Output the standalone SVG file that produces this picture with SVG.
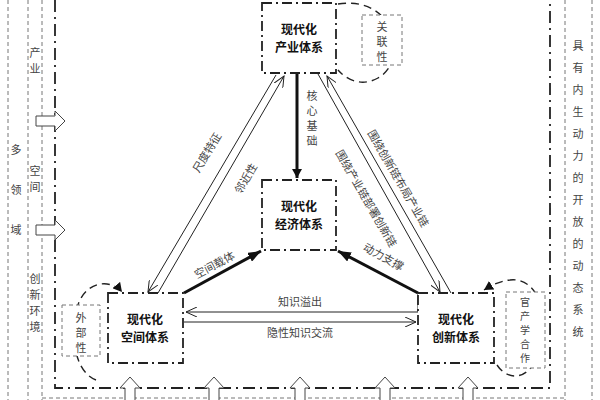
<svg xmlns="http://www.w3.org/2000/svg" width="600" height="400" viewBox="0 0 600 400">
<defs>
<style>
.t{font-family:"Noto Sans CJK SC","Liberation Sans",sans-serif;font-size:11px;fill:#444}
.r{dominant-baseline:central}
.b{font-family:"Noto Sans CJK SC","Liberation Sans",sans-serif;font-size:12px;font-weight:bold;fill:#111}
.node{fill:#fff;stroke:#222;stroke-width:1.8;stroke-dasharray:10 4 2 4}
.frame{fill:none;stroke:#222;stroke-width:1.8;stroke-dasharray:12 5 2 5}
.dash{fill:none;stroke:#777;stroke-width:1;stroke-dasharray:4 3}
.box{fill:#fff;stroke:#777;stroke-width:1;stroke-dasharray:4 3}
.loop{fill:none;stroke:#222;stroke-width:1.4;stroke-dasharray:8 5}
.ln{stroke:#222;stroke-width:1;fill:none}
.thick{stroke:#111;stroke-width:3;fill:none}
.hol{fill:#fff;stroke:#444;stroke-width:1}
</style>
<marker id="open" markerWidth="12" markerHeight="10" refX="11" refY="5" orient="auto" markerUnits="userSpaceOnUse"><path d="M0,0 L11,5 L0,10" fill="none" stroke="#222"/></marker>
<marker id="solid" markerWidth="14" markerHeight="10" refX="13" refY="5" orient="auto" markerUnits="userSpaceOnUse"><path d="M0,0 L13,5 L0,10 Z" fill="#111"/></marker>
<marker id="tri" markerWidth="10" markerHeight="10" refX="9" refY="5" orient="auto" markerUnits="userSpaceOnUse"><path d="M0,0 L9,5 L0,10 Z" fill="#111"/></marker>
</defs>
<rect width="600" height="400" fill="#fff"/>
<g id="background">
<line class="dash" x1="8" y1="0" x2="8" y2="400"/>
<line class="dash" x1="28" y1="0" x2="28" y2="400"/>
<line class="dash" x1="42" y1="0" x2="42" y2="400"/>
<line class="dash" x1="565" y1="0" x2="565" y2="400"/>
<line class="dash" x1="592" y1="0" x2="592" y2="400"/>
<line class="dash" x1="42" y1="398" x2="565" y2="398"/>
<path class="frame" d="M55,0 V388 H550 V0"/>
<g class="t" text-anchor="middle">
<text x="35" y="57">产</text><text x="35" y="73">业</text>
<text x="35" y="175">空</text><text x="35" y="191">间</text>
<text x="35" y="283">创</text><text x="35" y="299">新</text><text x="35" y="315">环</text><text x="35" y="331">境</text>
<text x="16" y="154">多</text><text x="16" y="194">领</text><text x="16" y="234">域</text>
<text x="578" y="50">具</text><text x="578" y="72">有</text><text x="578" y="94">内</text><text x="578" y="116">生</text><text x="578" y="138">动</text><text x="578" y="160">力</text><text x="578" y="182">的</text><text x="578" y="204">开</text><text x="578" y="226">放</text><text x="578" y="248">的</text><text x="578" y="270">动</text><text x="578" y="292">态</text><text x="578" y="314">系</text><text x="578" y="336">统</text>
</g>
<path class="hol" d="M36,116 H55 V111 L65,121 L55,131 V126 H36 Z"/>
<path class="hol" d="M36,225 H55 V220 L65,230 L55,240 V235 H36 Z"/>
<path class="hol" d="M125,400 V388 H120 L130,377 L140,388 H135 V400"/>
<path class="hol" d="M209,400 V388 H204 L214,377 L224,388 H219 V400"/>
<path class="hol" d="M295,400 V388 H290 L300,377 L310,388 H305 V400"/>
<path class="hol" d="M380,400 V388 H375 L385,377 L395,388 H390 V400"/>
<path class="hol" d="M463,400 V388 H458 L468,377 L478,388 H473 V400"/>
</g>
<g id="connectors">
<line class="thick" x1="297" y1="73" x2="297" y2="178" marker-end="url(#tri)"/>
<line class="ln" x1="276" y1="75" x2="148" y2="292" marker-end="url(#open)"/>
<line class="ln" x1="158" y1="293" x2="284" y2="76" marker-end="url(#open)"/>
<line class="ln" x1="318" y1="74" x2="440" y2="292" marker-end="url(#open)"/>
<line class="ln" x1="451" y1="293" x2="327" y2="76" marker-end="url(#open)"/>
<line class="thick" x1="184" y1="293" x2="261" y2="251" marker-end="url(#solid)"/>
<line class="thick" x1="418" y1="293" x2="338" y2="251" marker-end="url(#solid)"/>
<polyline class="ln" points="418,293 418,312 186,312" marker-end="url(#open)"/>
<line class="ln" x1="184" y1="322" x2="416" y2="322" marker-end="url(#open)"/>
<path class="loop" d="M338,4 C395,-5 410,60 378,78 C360,88 345,78 338,70"/>
<path class="loop" d="M96,380 C70,370 70,320 80,300 C90,280 112,280 122,292" marker-end="url(#tri)"/>
<path class="loop" d="M497,365 C510,385 540,380 542,330 C545,290 525,278 510,280 C500,281 492,285 484,290" marker-end="url(#tri)"/>
<g class="t" text-anchor="middle">
<text x="312" y="100">核</text><text x="312" y="115">心</text><text x="312" y="130">基</text><text x="312" y="145">础</text>
<text class="r" transform="translate(206,152) rotate(-59)">尺度特征</text>
<text class="r" transform="translate(245,178) rotate(-59)">邻近性</text>
<text class="r" transform="translate(399,178) rotate(60)">围绕创新链布局产业链</text>
<text class="r" transform="translate(367,198) rotate(60)">围绕产业链部署创新链</text>
<text class="r" transform="translate(214,264) rotate(-28)">空间载体</text>
<text class="r" transform="translate(384,256) rotate(29)">动力支撑</text>
<text x="300" y="306">知识溢出</text>
<text x="300" y="337">隐性知识交流</text>
</g>
</g>
<g id="n-industry"><rect class="node" x="262" y="3" width="74" height="70"/><text class="b" x="299" y="34" text-anchor="middle">现代化</text><text class="b" x="299" y="52" text-anchor="middle">产业体系</text></g>
<g id="n-economy"><rect class="node" x="262" y="180" width="74" height="70"/><text class="b" x="299" y="211" text-anchor="middle">现代化</text><text class="b" x="299" y="229" text-anchor="middle">经济体系</text></g>
<g id="n-space"><rect class="node" x="108" y="293" width="75" height="70"/><text class="b" x="145" y="324" text-anchor="middle">现代化</text><text class="b" x="145" y="342" text-anchor="middle">空间体系</text></g>
<g id="n-innovation"><rect class="node" x="418" y="293" width="76" height="70"/><text class="b" x="456" y="324" text-anchor="middle">现代化</text><text class="b" x="456" y="342" text-anchor="middle">创新体系</text></g>
<g id="n-assoc"><rect class="box" x="362" y="15" width="40" height="50"/><text class="t" x="382" y="31" text-anchor="middle">关</text><text class="t" x="382" y="46" text-anchor="middle">联</text><text class="t" x="382" y="61" text-anchor="middle">性</text></g>
<g id="n-extern"><rect class="box" x="62" y="305" width="38" height="51"/><text class="t" x="81" y="322" text-anchor="middle">外</text><text class="t" x="81" y="337" text-anchor="middle">部</text><text class="t" x="81" y="352" text-anchor="middle">性</text></g>
<g id="n-coop" font-size="10"><rect class="box" x="506" y="292" width="39" height="76"/><text class="t" style="font-size:10px" x="525" y="306" text-anchor="middle">官</text><text class="t" style="font-size:10px" x="525" y="320" text-anchor="middle">产</text><text class="t" style="font-size:10px" x="525" y="334" text-anchor="middle">学</text><text class="t" style="font-size:10px" x="525" y="348" text-anchor="middle">合</text><text class="t" style="font-size:10px" x="525" y="362" text-anchor="middle">作</text></g>
</svg>
